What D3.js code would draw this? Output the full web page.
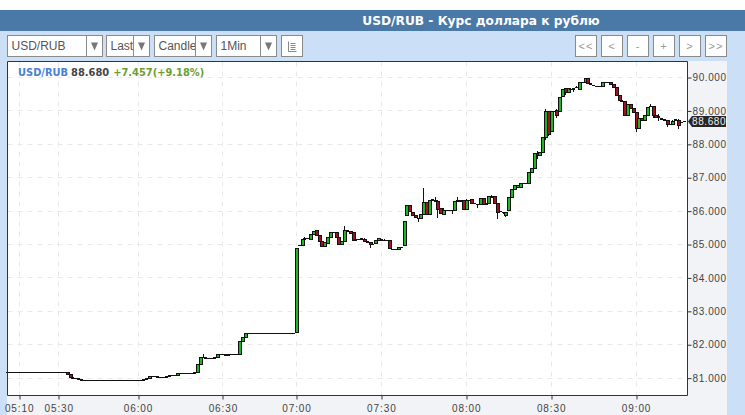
<!DOCTYPE html>
<html><head><meta charset="utf-8">
<script src="https://cdnjs.cloudflare.com/ajax/libs/d3/7.8.5/d3.min.js"></script>
<style>html,body{margin:0;padding:0;background:#fff;overflow:hidden}svg{display:block}</style>
</head><body><div id="chart"></div>
<script>
const title = "USD/RUB - Курс доллара к рублю";
const selectLabels = ["USD/RUB","Last","Candle","1Min"];
const navLabels = ["<<","<","-","+",">",">>"];
const timeLabels = ["05:10","05:30","06:00","06:30","07:00","07:30","08:00","08:30","09:00"];
const timeBars = [4,18,46,76,102,132,162,192,222];
const priceTicks = [81,82,83,84,85,86,87,88,89,90];
const lastPrice = 88.68, change = "+7.457(+9.18%)";
const barCount = 240;

const opens = [
81.18,81.18,81.18,81.18,81.18,81.18,81.18,81.18,81.18,81.18,81.18,81.18,81.18,81.18,81.18,81.18,81.18,81.18,81.18,81.17,
81.18,81.18,81.12,81.02,81.00,80.99,80.97,80.94,80.94,80.94,80.94,80.94,80.94,80.94,80.94,80.94,80.94,80.94,80.94,80.94,
80.94,80.94,80.94,80.94,80.94,80.94,80.94,80.94,80.94,80.96,81.00,81.05,81.05,81.04,81.03,81.03,81.03,81.05,81.07,81.08,
81.08,81.13,81.15,81.15,81.14,81.13,81.13,81.18,81.42,81.63,81.63,81.60,81.58,81.58,81.62,81.70,81.70,81.70,81.69,81.72,
81.72,81.72,81.72,82.09,82.22,82.34,82.34,82.34,82.34,82.34,82.34,82.34,82.34,82.35,82.35,82.34,82.34,82.34,82.34,82.34,
82.34,82.34,82.37,84.98,84.98,85.16,85.18,85.16,85.30,85.43,85.28,85.08,84.95,85.03,85.21,85.36,85.36,85.20,85.01,85.10,
85.43,85.38,85.35,85.13,85.15,85.15,85.16,85.10,85.05,85.01,85.03,85.13,85.16,85.13,85.13,85.13,84.85,84.85,84.86,84.91,
84.98,85.88,86.18,85.96,85.88,85.78,85.78,85.90,86.26,85.90,86.33,86.33,86.28,86.08,85.90,86.02,86.02,86.02,86.03,86.30,
86.33,86.33,86.06,86.33,86.35,86.23,86.21,86.21,86.38,86.21,86.23,86.43,86.43,86.23,85.98,85.97,85.87,86.02,86.42,86.64,
86.72,86.70,86.84,86.84,86.84,87.15,87.27,87.74,87.67,87.77,88.20,88.99,88.37,88.99,89.01,88.99,89.43,89.66,89.54,89.64,
89.66,89.69,89.64,89.84,89.86,89.98,89.81,89.76,89.74,89.74,89.74,89.84,89.84,89.84,89.78,89.71,89.46,89.31,89.28,88.86,
89.19,89.08,88.94,88.46,88.76,88.71,88.86,89.13,89.13,88.86,88.83,88.76,88.74,88.71,88.59,88.59,88.73,88.71,88.64,88.68];

const closes = [
81.18,81.18,81.18,81.18,81.18,81.18,81.18,81.18,81.18,81.18,81.18,81.18,81.18,81.18,81.18,81.18,81.18,81.18,81.16,81.16,
81.18,81.12,81.02,81.00,80.99,80.97,80.94,80.94,80.94,80.94,80.94,80.94,80.94,80.94,80.94,80.94,80.94,80.94,80.94,80.94,
80.94,80.94,80.94,80.94,80.94,80.94,80.94,80.94,80.96,81.00,81.05,81.05,81.04,81.03,81.03,81.03,81.05,81.07,81.08,81.08,
81.13,81.15,81.15,81.14,81.13,81.13,81.18,81.42,81.63,81.63,81.60,81.58,81.58,81.62,81.70,81.70,81.70,81.69,81.72,81.72,
81.72,81.72,82.09,82.22,82.34,82.34,82.34,82.34,82.34,82.34,82.34,82.34,82.34,82.33,82.33,82.34,82.34,82.34,82.34,82.34,
82.34,82.34,84.87,84.98,85.16,85.18,85.18,85.30,85.40,85.28,85.08,84.95,85.05,85.21,85.36,85.36,85.20,85.01,85.10,85.43,
85.38,85.33,85.13,85.15,85.15,85.17,85.10,85.05,85.01,85.01,85.13,85.18,85.12,85.13,85.13,84.88,84.85,84.85,84.91,84.91,
85.70,86.16,85.98,85.86,85.80,85.78,85.90,86.26,85.90,86.33,86.34,86.28,86.06,85.93,86.03,86.02,86.02,86.02,86.28,86.33,
86.30,86.06,86.33,86.33,86.23,86.23,86.21,86.38,86.21,86.23,86.43,86.40,86.23,85.96,85.98,85.97,85.97,86.42,86.64,86.76,
86.76,86.84,86.84,86.84,87.15,87.29,87.72,87.67,87.77,88.20,88.99,88.30,88.99,88.99,88.86,89.41,89.63,89.54,89.66,89.64,
89.64,89.69,89.86,89.86,89.96,89.81,89.78,89.76,89.74,89.74,89.84,89.84,89.84,89.78,89.69,89.46,89.31,89.28,88.86,89.19,
89.08,88.94,88.46,88.76,88.71,88.86,89.11,89.13,88.86,88.81,88.79,88.74,88.71,88.59,88.59,88.69,88.71,88.56,88.66,88.68];

/* wick extremes: [bar, value] */
const highWicks = [[69,81.71],[105,85.22],[107,85.33],[119,85.55],[126,85.19],[133,85.18],[147,86.68],[151,86.42],[152,86.33],[154,86.08],[159,86.43],[162,86.37],[171,86.48],[187,87.80],[190,89.07],[194,89.05],[199,89.70],[201,89.74],[206,89.83],[212,89.88],[213,89.87],[227,89.21],[230,88.90],[235,88.74],[237,88.75]];
const lowWicks = [[145,85.66],[152,85.78],[157,85.90],[166,86.10],[128,84.91],[173,85.75],[175,85.92],[176,85.82],[187,87.57],[190,88.14],[191,88.26],[194,88.78],[197,89.48],[200,89.58],[222,88.38],[223,88.58],[228,88.80],[230,88.70],[233,88.53],[237,88.47]];

const W = 745, H = 415;
const svg = d3.select("#chart").append("svg").attr("width", W).attr("height", H);
const rect = (g,x,y,w,h,fill,stroke) => g.append("rect").attr("x",x).attr("y",y).attr("width",w).attr("height",h).attr("fill",fill).attr("stroke",stroke||"none");

rect(svg,0,0,W,H,"#fff");
rect(svg,0,31,W,H-31,"#cbdff6");
rect(svg,0,10,W,21,"#4a78a7");
svg.append("text").attr("x",481).attr("y",25).attr("text-anchor","middle").attr("fill","#fff")
  .attr("font-family","'DejaVu Sans'").attr("font-weight","bold").attr("font-size",12.2).text(title);

/* toolbar */
const sel = [[7.5,86.5,102.5],[106.5,133.5,149.5],[154.5,195.5,211.5],[216.5,260.5,276.5]];
const defs = svg.append("defs");
sel.forEach((s,i)=>{
  const g = svg.append("g");
  rect(g,s[0],35.5,s[2]-s[0],21,"#fff","#8a8a8a");
  defs.append("clipPath").attr("id","c"+i).append("rect").attr("x",s[0]).attr("y",35).attr("width",s[1]-s[0]).attr("height",22);
  g.append("text").attr("x",s[0]+4).attr("y",50).attr("clip-path",`url(#c${i})`).attr("font-family","'Liberation Sans'").attr("font-size",12).attr("fill","#555").text(selectLabels[i]);
  g.append("line").attr("x1",s[1]).attr("x2",s[1]).attr("y1",35.5).attr("y2",56.5).attr("stroke","#8a8a8a");
  const cx=(s[1]+s[2])/2;
  g.append("path").attr("d",`M${cx-3.5},42.5h7l-3.5,8z`).attr("fill","#777");
});
const ic = svg.append("g");
rect(ic,281.5,35.5,21,21,"#fff","#8a8a8a");
ic.append("path").attr("d","M288.5,41.5v10h8M290.5,43.5h5M290.5,45.5h5M290.5,47.5h5M290.5,49.5h5").attr("stroke","#888").attr("fill","none").attr("stroke-width",1);
const navX = [575.5,601.5,627.5,653.5,679.5,705.5];
navLabels.forEach((t,i)=>{
  const g = svg.append("g");
  rect(g,navX[i],35.5,21,21,"#fff","#8a8a8a");
  g.append("text").attr("x",navX[i]+10.5).attr("y",49.5).attr("text-anchor","middle").attr("font-family","'Liberation Sans'").attr("font-size",11).attr("letter-spacing",1).attr("fill","#999").text(t);
});

/* plot */
const L=7.5,R=687.5,T=61.5,B=395.5;
rect(svg,7,61,720,H-61,"#f2f3f7");
rect(svg,L,T,R-L,B-T,"#fff");

const x = d3.scaleLinear().domain([0,barCount]).range([7.84,687]);
const y = d3.scaleLinear().domain([80.48,90.48]).range([B,T]);
const px = v => Math.round(x(v)-.5)+.5;
const py = v => Math.round(y(v)-.5)+.5;

const grid = svg.append("g").attr("stroke","#e9e9e9").attr("stroke-dasharray","5,5");
grid.selectAll(".v").data(timeBars).join("line").attr("x1",px).attr("x2",px).attr("y1",T).attr("y2",B);
grid.selectAll(".h").data(priceTicks).join("line").attr("x1",L).attr("x2",R).attr("y1",py).attr("y2",py);

/* candles */
const bars = d3.range(barCount).map(i=>({i,o:opens[i],c:closes[i]}));
const hi = new Map(highWicks), lo = new Map(lowWicks);
const cg = svg.append("g").attr("shape-rendering","crispEdges");
const up="#1fb524", dn="#a5101f";
bars.forEach(d=>{
  const cx=Math.round(x(d.i)-.5), top=Math.max(d.o,d.c), bot=Math.min(d.o,d.c);
  const yt=Math.round(y(top)-.5), yb=Math.round(y(bot)-.5);
  const h=hi.has(d.i)?hi.get(d.i):top, l=lo.has(d.i)?lo.get(d.i):bot;
  if(h>top||l<bot) rect(cg,cx,y(h),1,y(l)-y(h),"#111");
  const tall=yb-yt>=2;
  rect(cg,cx-1,yt,tall?4:3,yb-yt+1,"#111");
  if(tall) rect(cg,cx,yt+1,2,yb-yt-1,d.c>=d.o?up:dn);
});

/* frame */
svg.append("path").attr("d",`M${L},${B}V${T}H${R}V${B}H${L}`).attr("fill","none").attr("stroke","#333");

/* axes */
const tickFont = g => g.selectAll("text").attr("font-family","'Liberation Sans'").attr("font-size",10).attr("letter-spacing",.6).attr("fill","#444");
const xAxis = d3.axisBottom(x).tickValues(timeBars).tickFormat((d,i)=>timeLabels[i]).tickSize(4).tickPadding(5);
const gx = svg.append("g").attr("transform",`translate(0,${B})`).call(xAxis);
gx.select(".domain").remove(); gx.selectAll("line").attr("stroke","#333").attr("transform",d=>`translate(${px(d)-x(d)},0)`);
tickFont(gx); gx.selectAll("text").attr("letter-spacing",.9);
const yAxis = d3.axisRight(y).tickValues(priceTicks).tickFormat(d3.format(".3f")).tickSize(4).tickPadding(1);
const gy = svg.append("g").attr("transform",`translate(${R},0)`).call(yAxis);
gy.select(".domain").remove(); gy.selectAll("line").attr("stroke","#333");
tickFont(gy);

/* legend */
const leg = svg.append("text").attr("x",18).attr("y",75.5).attr("font-family","'DejaVu Sans'").attr("font-weight","bold").attr("font-size",9.9);
leg.append("tspan").attr("fill","#4a7fd6").text(selectLabels[0]);
leg.append("tspan").attr("dx",3).attr("fill","#444").text(d3.format(".3f")(lastPrice));
leg.append("tspan").attr("dx",4).attr("fill","#6b9e33").text(change);

/* last price tag */
const ly=y(lastPrice);
svg.append("path").attr("d",`M688,${ly}l4,-5.5h34v11h-34z`).attr("fill","#262626");
svg.append("text").attr("x",692).attr("y",ly+3.8).attr("font-family","'Liberation Sans'").attr("font-size",10).attr("letter-spacing",.6).attr("fill","#eee").text(d3.format(".3f")(lastPrice));
</script></body></html>
